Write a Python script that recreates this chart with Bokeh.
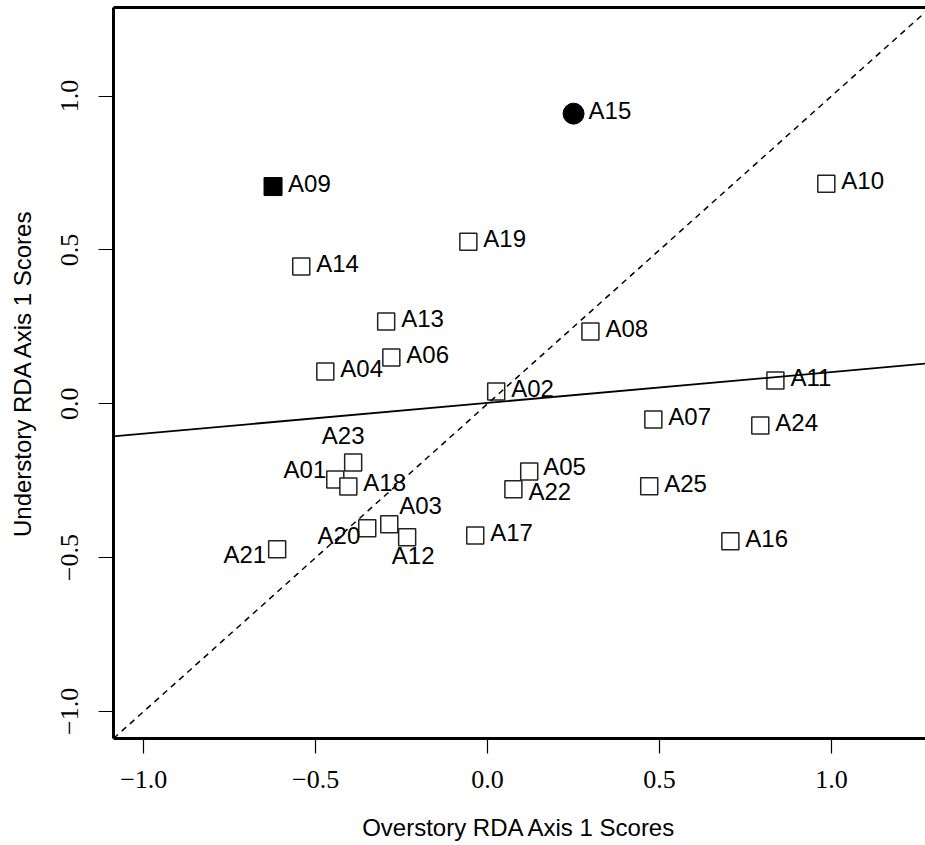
import math
from bokeh.plotting import figure
from bokeh.models import Range1d, LinearAxis, FixedTicker, ColumnDataSource, Slope
from bokeh.embed import file_html
from bokeh.resources import INLINE
from bokeh.core.properties import value

# ---- data ----
sites = ["A01", "A02", "A03", "A04", "A05", "A06", "A07", "A08", "A09", "A10",
         "A11", "A12", "A13", "A14", "A15", "A16", "A17", "A18", "A19", "A20",
         "A21", "A22", "A23", "A24", "A25"]
overstory = [-0.443, 0.025, -0.286, -0.472, 0.121, -0.280, 0.482, 0.299, -0.624, 0.985,
             0.837, -0.234, -0.295, -0.542, 0.250, 0.706, -0.036, -0.405, -0.056, -0.350,
             -0.612, 0.075, -0.391, 0.793, 0.470]
understory = [-0.246, 0.040, -0.392, 0.105, -0.220, 0.150, -0.051, 0.235, 0.706, 0.715,
              0.076, -0.434, 0.267, 0.446, 0.943, -0.447, -0.428, -0.269, 0.527, -0.405,
              -0.473, -0.278, -0.191, -0.071, -0.268]
marker_kind = ["open"] * 25
marker_kind[sites.index("A09")] = "filled_square"
marker_kind[sites.index("A15")] = "filled_circle"

fit_intercept = 0.003
fit_slope = 0.100

ticks = [-1, -0.5, 0, 0.5, 1]
tick_labels = {-1: "\u22121.0", -0.5: "\u22120.5", 0: "0.0", 0.5: "0.5", 1: "1.0"}

# label placement (style): alignment and pixel offsets
label_align = {"A01": "right", "A20": "right", "A21": "right", "A23": "center", "A12": "center"}
label_off = {"A01": (-9, -10), "A20": (-7, 7), "A21": (-11, 5), "A23": (-10, -27),
             "A12": (6, 18), "A03": (10, -19), "A05": (14, -5), "A22": (15, 2),
             "A18": (15, -4)}
default_off = (15, -3)

p = figure(width=925, height=845,
           x_range=Range1d(-1.088, 1.2735), y_range=Range1d(-1.088, 1.288),
           output_backend="svg", toolbar_location=None,
           x_axis_location=None, y_axis_location=None,
           min_border_left=113, min_border_right=0, min_border_top=7, min_border_bottom=107)
p.grid.visible = False
p.outline_line_color = None
p.background_fill_color = "white"
p.border_fill_color = "white"

def style_axis(ax):
    ax.ticker = FixedTicker(ticks=ticks)
    ax.major_label_overrides = tick_labels
    ax.axis_line_width = 3
    ax.axis_line_color = "black"
    ax.major_tick_in = 0
    ax.major_tick_out = 15
    ax.major_tick_line_width = 1.2
    ax.major_tick_line_color = "black"
    ax.minor_tick_line_color = None
    ax.major_label_text_font = "Liberation Serif"
    ax.major_label_text_font_size = "26px"
    ax.major_label_text_color = "black"
    ax.axis_label_text_font = "Liberation Sans"
    ax.axis_label_text_font_size = "24px"
    ax.axis_label_text_font_style = "normal"
    ax.axis_label_text_color = "black"

xa = LinearAxis(axis_label="Overstory RDA Axis 1 Scores")
style_axis(xa)
xa.major_label_standoff = 17
xa.axis_label_standoff = 23
p.add_layout(xa, "below")

ya = LinearAxis(axis_label="Understory RDA Axis 1 Scores")
style_axis(ya)
ya.major_label_orientation = "vertical"
ya.major_label_standoff = 20
ya.axis_label_standoff = 23
p.add_layout(ya, "left")

top = LinearAxis(ticker=FixedTicker(ticks=[]))
top.axis_line_width = 3
top.axis_line_color = "black"
top.major_tick_line_color = None
top.minor_tick_line_color = None
top.major_label_text_font_size = "0px"
p.add_layout(top, "above")

# reference lines
p.add_layout(Slope(gradient=1, y_intercept=0, line_color="black", line_width=1.5, line_dash="6 5"))
p.add_layout(Slope(gradient=fit_slope, y_intercept=fit_intercept, line_color="black", line_width=1.8))

# points
def subset(kind):
    idx = [i for i, k in enumerate(marker_kind) if k == kind]
    return ColumnDataSource(dict(x=[overstory[i] for i in idx], y=[understory[i] for i in idx]))

p.scatter("x", "y", source=subset("open"), marker="square", size=17,
          fill_color="white", line_color="#222222", line_width=1.5)
p.scatter("x", "y", source=subset("filled_square"), marker="square", size=18,
          fill_color="black", line_color="black", line_width=1)
p.scatter("x", "y", source=subset("filled_circle"), marker="circle", size=21,
          fill_color="black", line_color="black", line_width=1)

# labels
for align in ["left", "right", "center"]:
    idx = [i for i, s in enumerate(sites) if label_align.get(s, "left") == align]
    src = ColumnDataSource(dict(
        x=[overstory[i] for i in idx], y=[understory[i] for i in idx],
        t=[sites[i] for i in idx],
        dx=[label_off.get(sites[i], default_off)[0] for i in idx],
        dy=[label_off.get(sites[i], default_off)[1] for i in idx]))
    p.text("x", "y", text="t", source=src, x_offset="dx", y_offset="dy",
           text_align=align, text_baseline="middle",
           text_font=value("Liberation Sans"), text_font_size="24px", text_color="black")

open("out.html", "w").write(file_html(p, INLINE))
